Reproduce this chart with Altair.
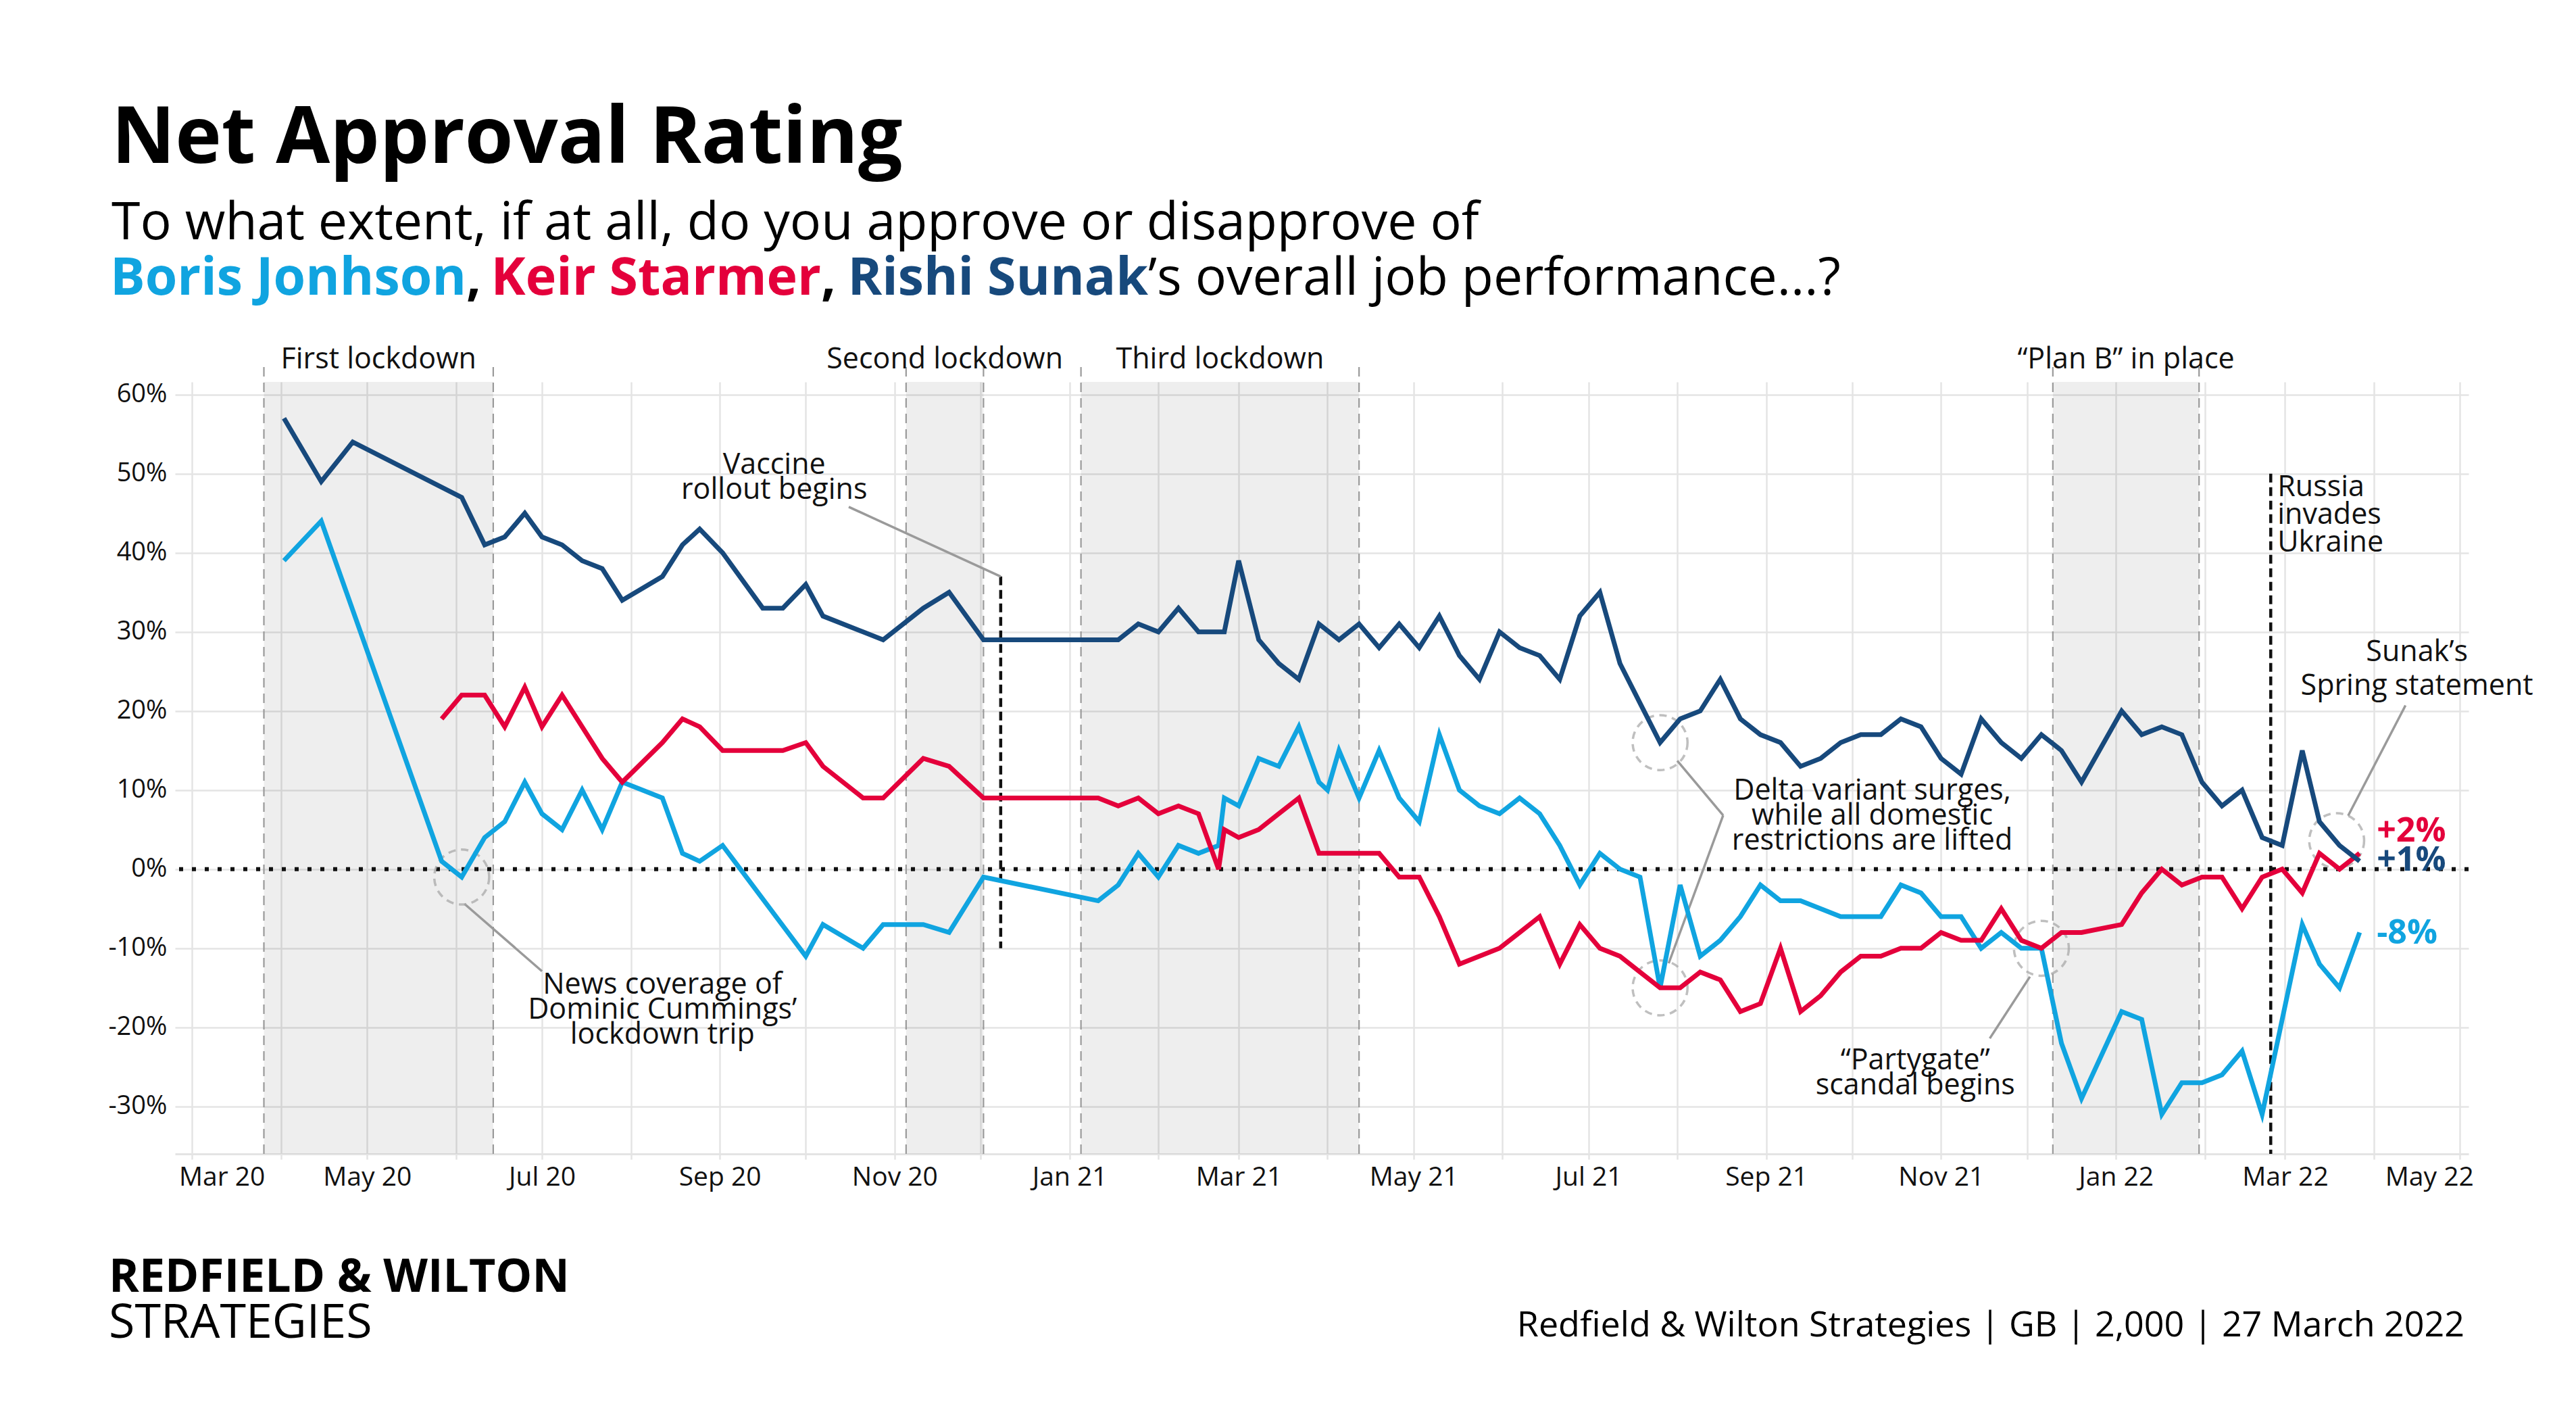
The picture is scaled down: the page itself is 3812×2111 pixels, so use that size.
import altair as alt
import pandas as pd

FONT = "Open Sans"

# ---------------- data ----------------
DATES = [
    "2020-04-02", "2020-04-15", "2020-04-26", "2020-05-27", "2020-06-03", "2020-06-11",
    "2020-06-18", "2020-06-25", "2020-07-01", "2020-07-08", "2020-07-15", "2020-07-22",
    "2020-07-29", "2020-08-12", "2020-08-19", "2020-08-25", "2020-09-02", "2020-09-16",
    "2020-09-23", "2020-10-01", "2020-10-07", "2020-10-21", "2020-10-28", "2020-11-11",
    "2020-11-20", "2020-12-02", "2021-01-11", "2021-01-18", "2021-01-25", "2021-02-01",
    "2021-02-08", "2021-02-15", "2021-02-22", "2021-02-24", "2021-03-01", "2021-03-08",
    "2021-03-15", "2021-03-22", "2021-03-29", "2021-04-01", "2021-04-05", "2021-04-12",
    "2021-04-19", "2021-04-26", "2021-05-03", "2021-05-10", "2021-05-17", "2021-05-24",
    "2021-05-31", "2021-06-07", "2021-06-14", "2021-06-21", "2021-06-28", "2021-07-05",
    "2021-07-12", "2021-07-19", "2021-07-26", "2021-08-02", "2021-08-09", "2021-08-16",
    "2021-08-23", "2021-08-30", "2021-09-06", "2021-09-13", "2021-09-20", "2021-09-27",
    "2021-10-04", "2021-10-11", "2021-10-18", "2021-10-25", "2021-11-01", "2021-11-08",
    "2021-11-15", "2021-11-22", "2021-11-29", "2021-12-06", "2021-12-13", "2021-12-20",
    "2022-01-03", "2022-01-10", "2022-01-17", "2022-01-24", "2022-01-31", "2022-02-07",
    "2022-02-14", "2022-02-21", "2022-02-28", "2022-03-07", "2022-03-13", "2022-03-20",
    "2022-03-27",
]
SUNAK = [
    57, 49, 54, None, 47, 41,
    42, 45, 42, 41, 39, 38,
    34, 37, 41, 43, 40, 33,
    33, 36, 32, 30, 29, 33,
    35, 29, 29, 29, 31, 30,
    33, 30, 30, 30, 39, 29,
    26, 24, 31, None, 29, 31,
    28, 31, 28, 32, 27, 24,
    30, 28, 27, 24, 32, 35,
    26, 21, 16, 19, 20, 24,
    19, 17, 16, 13, 14, 16,
    17, 17, 19, 18, 14, 12,
    19, 16, 14, 17, 15, 11,
    20, 17, 18, 17, 11, 8,
    10, 4, 3, 15, 6, 3,
    1,
]
STARMER = [
    None, None, None, 19, 22, 22,
    18, 23, 18, 22, 18, 14,
    11, 16, 19, 18, 15, 15,
    15, 16, 13, 9, 9, 14,
    13, 9, 9, 8, 9, 7,
    8, 7, 0, 5, 4, 5,
    7, 9, 2, None, 2, 2,
    2, -1, -1, -6, -12, -11,
    -10, -8, -6, -12, -7, -10,
    -11, -13, -15, -15, -13, -14,
    -18, -17, -10, -18, -16, -13,
    -11, -11, -10, -10, -8, -9,
    -9, -5, -9, -10, -8, -8,
    -7, -3, 0, -2, -1, -1,
    -5, -1, 0, -3, 2, 0,
    2,
]
JOHNSON = [
    39, 44, None, 1, -1, 4,
    6, 11, 7, 5, 10, 5,
    11, 9, 2, 1, 3, None,
    None, -11, -7, -10, -7, -7,
    -8, -1, -4, -2, 2, -1,
    3, 2, 3, 9, 8, 14,
    13, 18, 11, 10, 15, 9,
    15, 9, 6, 17, 10, 8,
    7, 9, 7, 3, -2, 2,
    0, -1, -15, -2, -11, -9,
    -6, -2, -4, -4, -5, -6,
    -6, -6, -2, -3, -6, -6,
    -10, -8, -10, -10, -22, -29,
    -18, -19, -31, -27, -27, -26,
    -23, -31, -19, -7, -12, -15,
    -8,
]
SERIES = ["Boris Johnson", "Keir Starmer", "Rishi Sunak"]
COLORS = ["#10a4e0", "#e4003b", "#17497c"]

PERIOD_LABELS = ["First lockdown", "Second lockdown", "Third lockdown", "\u201cPlan B\u201d in place"]
PERIOD_START = ["2020-03-26", "2020-11-05", "2021-01-05", "2021-12-10"]
PERIOD_END = ["2020-06-14", "2020-12-02", "2021-04-12", "2022-01-30"]

EVENT_DATES = ["2020-12-08", "2022-02-24"]
EVENT_TOP = [37, 50]
EVENT_BOTTOM = [-10, -36]

NOTE_LINES = [
    ["News coverage of", "Dominic Cummings\u2019", "lockdown trip"],
    ["Vaccine", "rollout begins"],
    ["Delta variant surges,", "while all domestic", "restrictions are lifted"],
    ["\u201cPartygate\u201d", "scandal begins"],
]
NOTE_DATE = ["2020-08-12", "2020-09-20", "2021-10-08", "2021-10-23"]
NOTE_Y = [-14.6, 51.1, 9.9, -24.2]  # first line of each note

SPRING_LINES = [["Sunak\u2019s", "Spring statement"]]
SPRING_DATE = ["2022-04-16"]
SPRING_Y = [27.4]

RUSSIA_LINES = [["Russia", "invades", "Ukraine"]]
RUSSIA_DATE = ["2022-02-24"]
RUSSIA_Y = [48.3]

CIRCLE_DATE = ["2020-06-03", "2021-07-26", "2021-07-26", "2021-12-06", "2022-03-19"]
CIRCLE_Y = [-1, 16, -15, -10, 3.6]

LINK_DATE = ["2020-06-04", "2020-10-16", "2021-08-17", "2021-08-17", "2021-12-02", "2022-03-23"]
LINK_Y = [-4.4, 45.8, 6.8, 6.8, -13.6, 6.75]
LINK_DATE2 = ["2020-07-01", "2020-12-08", "2021-08-01", "2021-07-29", "2021-11-18", "2022-04-12"]
LINK_Y2 = [-12.9, 37, 13.7, -11.9, -21.4, 20.7]

END_TEXT = ["+2%", "+1%", "-8%"]
END_Y = [4.8, 1.1, -8.1]
END_COLORS = ["#e4003b", "#17497c", "#10a4e0"]

Y_TICKS = [-30, -20, -10, 0, 10, 20, 30, 40, 50, 60]

# ---------------- tables ----------------
rows = []
for name, vals in zip(SERIES, [JOHNSON, STARMER, SUNAK]):
    for d, v in zip(DATES, vals):
        if v is not None:
            rows.append({"date": pd.Timestamp(d), "value": v, "who": name})
lines_df = pd.DataFrame(rows)

periods = pd.DataFrame({"label": PERIOD_LABELS,
                        "start": pd.to_datetime(PERIOD_START),
                        "end": pd.to_datetime(PERIOD_END)})
periods["mid"] = periods["start"] + (periods["end"] - periods["start"]) / 2
periods["top"] = 61.6
periods["bottom"] = -36.0
periods["labely"] = 63.3
bounds = pd.DataFrame({"date": list(periods["start"]) + list(periods["end"])})
bounds["y1"] = -36.0
bounds["y2"] = 64.0

events = pd.DataFrame({"date": pd.to_datetime(EVENT_DATES), "y1": EVENT_TOP, "y2": EVENT_BOTTOM})
notes = pd.DataFrame({"date": pd.to_datetime(NOTE_DATE), "value": NOTE_Y, "text": NOTE_LINES})
spring = pd.DataFrame({"date": pd.to_datetime(SPRING_DATE), "value": SPRING_Y, "text": SPRING_LINES})
russia = pd.DataFrame({"date": pd.to_datetime(RUSSIA_DATE), "value": RUSSIA_Y, "text": RUSSIA_LINES})
circles = pd.DataFrame({"date": pd.to_datetime(CIRCLE_DATE), "value": CIRCLE_Y})
links = pd.DataFrame({"date": pd.to_datetime(LINK_DATE), "value": LINK_Y,
                      "date2": pd.to_datetime(LINK_DATE2), "value2": LINK_Y2})
ends = pd.DataFrame({"date": pd.to_datetime(["2022-04-02"] * 3), "value": END_Y,
                     "text": END_TEXT, "c": END_COLORS})
zero_df = pd.DataFrame({"value": [0]})
one = pd.DataFrame({"k": [0]})

# ---------------- scales / axes ----------------
month_ticks = [alt.DateTime(year=d.year, month=d.month, date=1)
               for d in pd.date_range("2020-03-01", "2022-05-01", freq="MS")]
XSCALE = alt.Scale(domain=[alt.DateTime(year=2020, month=2, date=24),
                           alt.DateTime(year=2022, month=5, date=4)])
XAXIS = alt.Axis(values=month_ticks,
                 labelExpr="month(datum.value) % 2 == 0 ? timeFormat(datum.value, '%b %y') : ''",
                 labelFontSize=39, labelColor="#111", labelPadding=7, labelOverlap=False,
                 labelFlush=40, labelFlushOffset=20,
                 grid=True, gridColor="#e4e4e4", gridWidth=2.5,
                 ticks=True, tickSize=8, tickColor="#e4e4e4", tickWidth=2.5,
                 domain=True, domainColor="#e4e4e4", domainWidth=3, title=None)
YSCALE = alt.Scale(domain=[-36, 61.6], nice=False, zero=False)
YAXIS = alt.Axis(values=Y_TICKS, labelExpr="datum.value + '%'",
                 labelFontSize=38, labelColor="#111", labelPadding=12,
                 grid=True, gridColor="#e4e4e4", gridWidth=2.5,
                 ticks=False, domain=False, title=None)


def X(field):
    return alt.X(f"{field}:T", scale=XSCALE, axis=XAXIS, title=None)


def Y(field):
    return alt.Y(f"{field}:Q", scale=YSCALE, axis=YAXIS, title=None)


shade = alt.Chart(periods).mark_rect(color="#000000", opacity=0.065).encode(
    x=X("start"), x2="end", y=Y("top"), y2="bottom")
bound_rules = alt.Chart(bounds).mark_rule(color="#9a9a9a", strokeWidth=2.2, strokeDash=[14, 9]).encode(
    x=X("date"), y=Y("y1"), y2="y2")
period_text = alt.Chart(periods).mark_text(fontSize=43, baseline="alphabetic", align="center",
                                           color="#111").encode(
    x=X("mid"), y=Y("labely"), text="label:N")
zero_rule = alt.Chart(zero_df).mark_rule(color="#111", strokeWidth=6, strokeDash=[6, 13]).encode(
    y=Y("value"))
event_rules = alt.Chart(events).mark_rule(color="#111", strokeWidth=4.5, strokeDash=[13, 7]).encode(
    x=X("date"), y=Y("y1"), y2="y2")
link_rules = alt.Chart(links).mark_rule(color="#9a9a9a", strokeWidth=3.5).encode(
    x=X("date"), y=Y("value"), x2="date2:T", y2="value2:Q")
circle_marks = alt.Chart(circles).mark_point(shape="circle", size=6600, filled=False,
                                             color="#a5a5a5", strokeWidth=3.5,
                                             strokeDash=[11, 8]).encode(
    x=X("date"), y=Y("value"))
series = alt.Chart(lines_df).mark_line(strokeWidth=7, strokeJoin="miter").encode(
    x=X("date"), y=Y("value"),
    color=alt.Color("who:N", scale=alt.Scale(domain=SERIES, range=COLORS), legend=None),
    detail="who:N")
note_text = alt.Chart(notes).mark_text(fontSize=43, lineHeight=37, baseline="middle",
                                       align="center", color="#111").encode(
    x=X("date"), y=Y("value"), text="text")
spring_text = alt.Chart(spring).mark_text(fontSize=43, lineHeight=50, baseline="middle",
                                          align="center", color="#111").encode(
    x=X("date"), y=Y("value"), text="text")
russia_text = alt.Chart(russia).mark_text(fontSize=43, lineHeight=41, baseline="middle",
                                          align="left", dx=10, color="#111").encode(
    x=X("date"), y=Y("value"), text="text")
end_text = alt.Chart(ends).mark_text(fontSize=50, fontWeight="bold", baseline="middle",
                                     align="left").encode(
    x=X("date"), y=Y("value"), text="text:N", color=alt.Color("c:N", scale=None))


def txt(s, x, y, size, weight="normal", color="#000", align="left"):
    return alt.Chart(one).mark_text(fontSize=size, fontWeight=weight, color=color, align=align,
                                    baseline="alphabetic").encode(
        x=alt.value(x), y=alt.value(y), text=alt.value(s))


# junction points of the coloured subtitle pieces (name ends right-aligned here, comma starts here)
A1, A2, A3 = 431, 956, 1440
header = [
    txt("Net Approval Rating", -94, -324, 116, "bold"),
    txt("To what extent, if at all, do you approve or disapprove of", -94, -211, 77),
    txt("Boris Jonhson", A1, -129, 77, "bold", COLORS[0], "right"),
    txt(",", A1, -129, 77, "bold", "#000"),
    txt("Keir Starmer", A2, -129, 77, "bold", COLORS[1], "right"),
    txt(",", A2, -129, 77, "bold", "#000"),
    txt("Rishi Sunak", A3, -129, 77, "bold", COLORS[2], "right"),
    txt("\u2019s overall job performance...?", A3, -129, 77),
    txt("REDFIELD & WILTON", -98, 1346, 68, "bold"),
    txt("STRATEGIES", -98, 1414, 70),
    txt("Redfield & Wilton Strategies | GB | 2,000 | 27 March 2022", 3388, 1412, 52,
        align="right"),
]

chart = alt.layer(
    shade, bound_rules, period_text, zero_rule, event_rules, link_rules, circle_marks,
    series, note_text, spring_text, russia_text, end_text, *header
).properties(
    width=3394, height=1142,
    autosize=alt.AutoSizeParams(type="none"),
    padding={"left": 251, "top": 557, "right": 140, "bottom": 380},
    background="white",
).configure(font=FONT).configure_view(stroke=None)

chart.save("out.html", embed_options={"renderer": "svg", "actions": False})
